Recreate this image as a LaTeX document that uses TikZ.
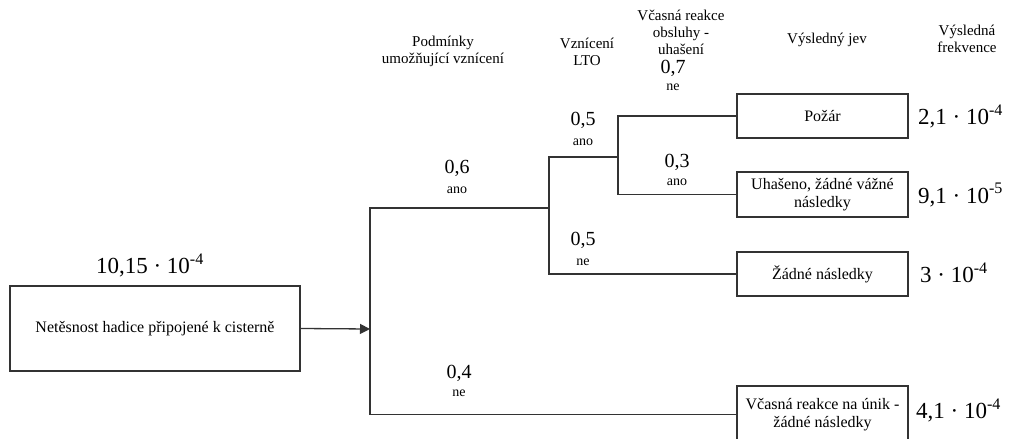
\documentclass[tikz,border=0pt]{standalone}
\usepackage{fontspec}
\setmainfont{Liberation Serif}
\usetikzlibrary{arrows.meta}

\begin{document}
\begin{tikzpicture}[x=1pt,y=-1pt,
	event/.style={draw=black!80,line width=1.3pt,align=center,inner sep=0pt,font=\fontsize{16}{18}\selectfont},
	head/.style={align=center,font=\fontsize{15}{17}\selectfont},
	prob/.style={font=\fontsize{20}{22}\selectfont},
	answer/.style={font=\fontsize{14}{16}\selectfont},
	freq/.style={font=\fontsize{23}{25}\selectfont},
	branch/.style={draw=black!80,line width=1.3pt}]
	\useasboundingbox (0,0) rectangle (1010,439);

	%INITIAL EVENT
	\node[event,minimum width=290,minimum height=85] (leak) at (155,328.5) {Netěsnost hadice připojené k cisterně};
	\node[freq] (fleak) at (150,265) {10,15 · 10\textsuperscript{-4}};

	%OUTCOMES
	\node[event,minimum width=171,minimum height=44] (fire)   at (822.5,116)   {Požár};
	\node[event,minimum width=171,minimum height=45] (doused) at (822.5,194.5) {Uhašeno, žádné vážné\\následky};
	\node[event,minimum width=171,minimum height=44] (noign)  at (822.5,274)   {Žádné následky};
	\node[event,minimum width=171,minimum height=57] (react)  at (822.5,414.5) {Včasná reakce na únik -\\žádné následky};

	%BRANCHES
	\coordinate (cond) at (370,329);	%conditions for ignition
	\coordinate (ign)  at (549,208);	%ignition
	\coordinate (crew) at (618,157);	%crew reaction
	\draw[branch,-{Triangle[length=10pt,width=10pt]}] (leak.east) -- (cond);
	\draw[branch] (ign) -| (cond) |- (react.west);
	\draw[branch] (crew) -| (ign) |- (noign.west);
	\draw[branch] (fire.west) -| (crew) |- (doused.west);

	%PROBABILITIES
	\node[prob] (p06) at (457,168) {0,6};
	\node[answer] (a06) at (457,190) {ano};
	\node[prob] (p05a) at (583,120) {0,5};
	\node[answer] (a05a) at (583,142) {ano};
	\node[prob] (p05n) at (583,240) {0,5};
	\node[answer] (a05n) at (583,262) {ne};
	\node[prob] (p07) at (673,68) {0,7};
	\node[answer] (a07) at (673,87) {ne};
	\node[prob] (p03) at (677,162) {0,3};
	\node[answer] (a03) at (677,182) {ano};
	\node[prob] (p04) at (459,373) {0,4};
	\node[answer] (a04) at (459,393) {ne};

	%CAPTIONS
	\node[head] (hcond) at (443,51.5) {Podmínky\\umožňující vznícení};
	\node[head] (hign)  at (587,51.5) {Vznícení\\LTO};
	\node[head] (hcrew) at (681,32.5) {Včasná reakce\\obsluhy -\\uhašení};
	\node[head] (hout)  at (827,40)   {Výsledný jev};
	\node[head] (hfreq) at (967,38.5) {Výsledná\\frekvence};

	%FREQUENCIES
	\node[freq,anchor=west,inner sep=0pt] (ffire)   at (918,116)   {2,1 · 10\textsuperscript{-4}};
	\node[freq,anchor=west,inner sep=0pt] (fdoused) at (918,195)   {9,1 · 10\textsuperscript{-5}};
	\node[freq,anchor=west,inner sep=0pt] (fnoign)  at (920,273)   {3 · 10\textsuperscript{-4}};
	\node[freq,anchor=west,inner sep=0pt] (freact)  at (916,410)   {4,1 · 10\textsuperscript{-4}};
\end{tikzpicture}
\end{document}
